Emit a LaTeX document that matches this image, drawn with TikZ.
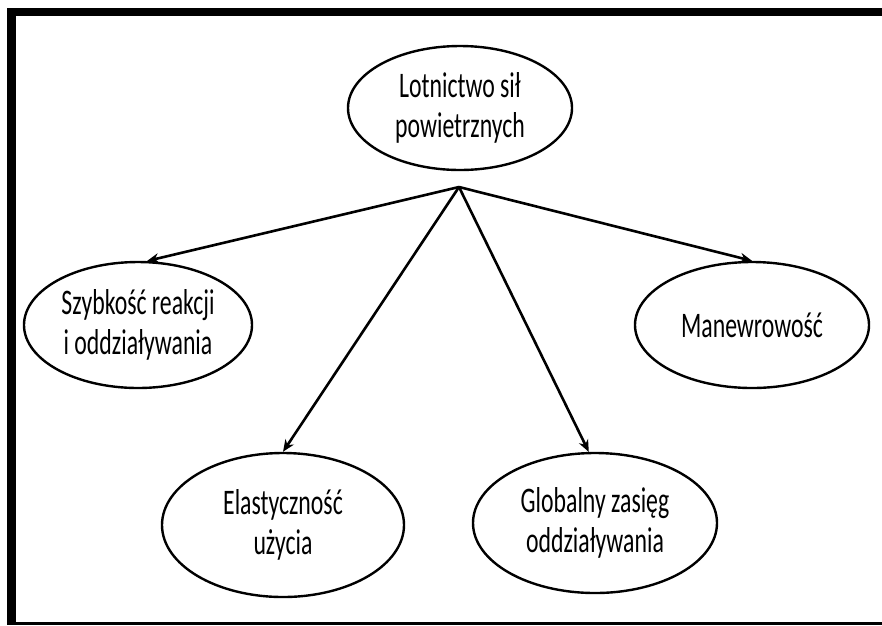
\documentclass[tikz,border=0pt]{standalone}
\usepackage{fontspec}
\newfontfamily\bubblefont[FakeStretch=0.66]{Carlito}
\usepackage{tikz}
\usetikzlibrary{
	arrows.meta,
	positioning,
	shapes.geometric
}

\begin{document}
\begin{tikzpicture}[>={Stealth[length=12pt,width=10pt]}, x=1pt, y=-1pt,
	bubble/.style={draw, ellipse, line width=2.4pt, inner sep=0pt, align=center,
		font=\bubblefont\fontsize{36}{40}\selectfont},
	link/.style={->, line width=2.6pt}]
			
			\useasboundingbox (0,0) rectangle (882,625);
			
			% frame
			\fill (7,8) rectangle (882,16);
			\fill (7,8) rectangle (16,625);
			\fill (7,622) rectangle (882,625);
			
			\node[bubble, minimum width=224pt, minimum height=124pt] (air) at (460,108) {Lotnictwo sił\\powietrznych};
			
			\node[bubble, minimum width=228pt, minimum height=126pt] (speed) at (138,325) {Szybkość reakcji\\i oddziaływania};
			\node[bubble, minimum width=234pt, minimum height=126pt] (manoeuvre) at (752,325) {Manewrowość};
			\node[bubble, minimum width=242pt, minimum height=144pt] (flex) at (283,525) {Elastyczność\\użycia};
			\node[bubble, minimum width=244pt, minimum height=140pt] (reach) at (595,523) {Globalny zasięg\\oddziaływania};
			
			\coordinate (hub) at (459,187);
			
			\draw[link] (hub) -- (speed.82);
			\draw[link] (hub) -- (flex.north);
			\draw[link] (hub) -- (reach.95);
			\draw[link] (hub) -- (manoeuvre.north);
			
		\end{tikzpicture}
\end{document}
